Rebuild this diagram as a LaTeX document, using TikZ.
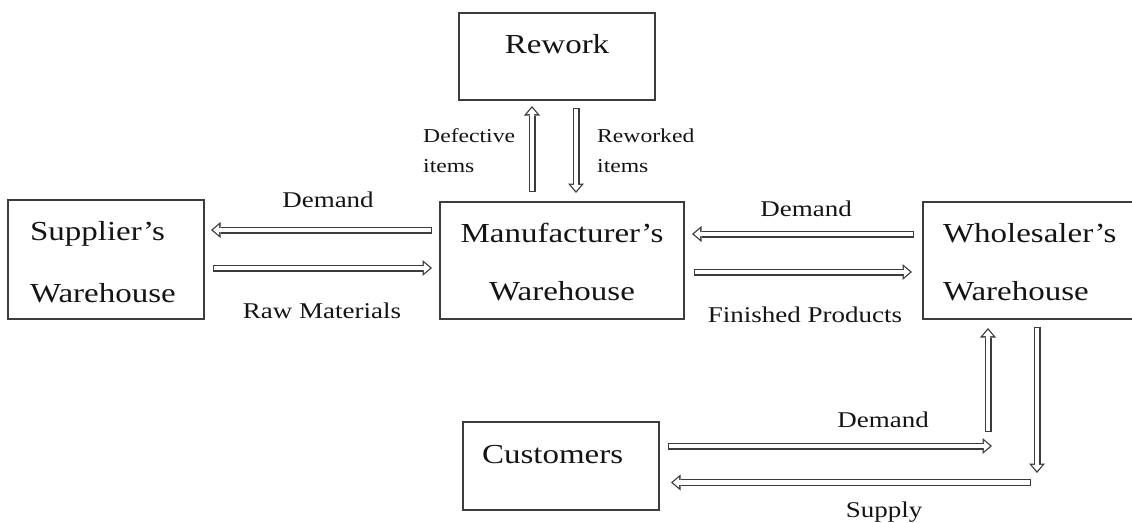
\documentclass[tikz,border=0pt]{standalone}
\usepackage{fontspec}
\setmainfont{Liberation Serif}[FakeStretch=1.2]
\usepackage{xcolor}
\usetikzlibrary{arrows.meta}
\definecolor{ChainLine}{HTML}{3C3C3C}
\definecolor{ChainText}{HTML}{141414}

\tikzset{
  depot/.style={draw=ChainLine, line width=1.3pt, inner ysep=0pt, outer sep=0pt, anchor=north west, text=ChainText, font=\fontsize{27.5pt}{58pt}\selectfont},
  flowlabel/.style={text=ChainText, inner sep=0pt, anchor=base, font=\fontsize{22.5pt}{27pt}\selectfont},
  sidelabel/.style={text=ChainText, inner sep=0pt, anchor=base west, align=left, text width=100pt, font=\fontsize{19.7pt}{30pt}\selectfont}
}

\newcommand{\flowarrow}[2]{%
  \draw[ChainLine, line width=7pt, -{Triangle[width=16pt,length=9.5pt,line width=0pt]}] #1 -- #2;
  \draw[white, line width=4.4pt, shorten <=1.3pt, shorten >=2pt, -{Triangle[width=10.6pt,length=6.2pt,line width=0pt]}] #1 -- #2;
}

\begin{document}
\begin{tikzpicture}[x=1pt,y=-1pt]
        \useasboundingbox (0,0) rectangle (1132,522);
        \node[depot, inner xsep=22pt, text width=152pt, align=left, text height=40pt, text depth=79pt, font=\fontsize{27.5pt}{62pt}\selectfont] (sup) at (8,200) {Supplier's\\Warehouse};
        \node[depot, inner xsep=10pt, text width=224pt, align=center, text height=40pt, text depth=77pt] (mfr) at (440,202) {Manufacturer's\\Warehouse};
        \node[depot, inner xsep=20pt, text width=177pt, align=left, text height=40pt, text depth=77pt] (whs) at (923,202) {Wholesaler's\\Warehouse};
        \node[depot, inner xsep=10pt, text width=176pt, align=center, text height=40pt, text depth=47pt] (rwk) at (459,13) {Rework};
        \node[depot, inner xsep=19pt, text width=158pt, align=left, text height=41pt, text depth=47pt] (cus) at (463,422) {Customers};
        \coordinate (dmdend) at (992,446);
        \coordinate (dmdrise) at (988,432);
        \coordinate (supdrop) at (1037,473);
        \coordinate (supstart) at (1031,482.5);
        \flowarrow{([shift={(-8,-30.5)}]mfr.west)}{([shift={(7,-29.5)}]sup.east)}
        \flowarrow{([shift={(9,8.5)}]sup.east)}{([shift={(-8,7.5)}]mfr.west)}
        \flowarrow{([shift={(-9,-26.5)}]whs.west)}{([shift={(8,-26.5)}]mfr.east)}
        \flowarrow{([shift={(10,11.5)}]mfr.east)}{([shift={(-11,11.5)}]whs.west)}
        \flowarrow{([shift={(-30,-10)}]mfr.north)}{([shift={(-25,6)}]rwk.south)}
        \flowarrow{([shift={(19,8)}]rwk.south)}{([shift={(14,-9)}]mfr.north)}
        \flowarrow{([shift={(9,-20)}]cus.east)}{(dmdend)}
        \flowarrow{(dmdrise)}{([shift={(65,9)}]whs.south west)}
        \flowarrow{([shift={(114,8)}]whs.south west)}{(supdrop)}
        \flowarrow{(supstart)}{([shift={(12,16.5)}]cus.east)}
        \node[flowlabel] (dmdsup) at (328,207) {Demand};
        \node[flowlabel] (raw) at (322,318) {Raw Materials};
        \node[flowlabel] (dmdmfr) at (806,216) {Demand};
        \node[flowlabel] (fin) at (805,322) {Finished Products};
        \node[flowlabel] (dmdcus) at (883,427) {Demand};
        \node[flowlabel] (supply) at (884,517) {Supply};
        \node[sidelabel] (defect) at (423,142) {Defective\\items};
        \node[sidelabel] (rewrk) at (597,142) {Reworked\\items};
      \end{tikzpicture}
\end{document}
